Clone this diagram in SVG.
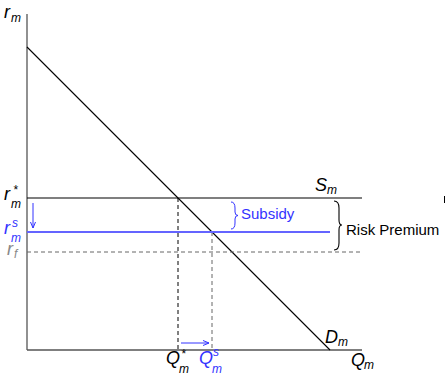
<svg xmlns="http://www.w3.org/2000/svg" width="447" height="376" viewBox="0 0 447 376">
<style>
.ax{stroke:#555;stroke-width:1.3;fill:none}
.ln{stroke:#000;stroke-width:1.1;fill:none}
.bl{stroke:#3333ff;stroke-width:1;fill:none}
.dash{stroke:#000;stroke-width:1;stroke-dasharray:4,3;fill:none}
.gdash{stroke:#666;stroke-width:1;stroke-dasharray:4,3;fill:none}
.m{font-family:"Liberation Sans",Arial,sans-serif;font-style:italic;font-size:18px;fill:#000}
.s{font-family:"Liberation Sans",Arial,sans-serif;font-style:italic;font-size:12px;fill:#000}
.t{font-family:"Liberation Sans",Arial,sans-serif;font-size:15px}
.blue{fill:#3333ff}
.gray{fill:#888}
</style>
<defs>
<marker id="ah" markerWidth="8" markerHeight="8" refX="7" refY="4" orient="auto" markerUnits="userSpaceOnUse">
<path d="M1,1.5 L7,4 L1,6.5" fill="none" stroke="#3333ff" stroke-width="1"/>
</marker>
</defs>
<g id="axes">
<line class="ax" x1="27" y1="14" x2="27" y2="350"/>
<line class="ax" x1="27" y1="350" x2="362" y2="350"/>
</g>
<g id="connectors">
<line class="ln" x1="27" y1="47" x2="330" y2="350"/>
<line class="ln" x1="27" y1="198" x2="362" y2="198"/>
<line class="gdash" x1="27" y1="252" x2="362" y2="252"/>
<line class="dash" x1="178" y1="198" x2="178" y2="350"/>
<line class="gdash" x1="212" y1="232" x2="212" y2="350"/>
<line x1="27" y1="232" x2="330" y2="232" stroke="#6464ff" stroke-width="1.8"/>
<line class="bl" x1="33" y1="203" x2="33" y2="228" marker-end="url(#ah)"/>
<line class="bl" x1="181" y1="343" x2="209" y2="343" marker-end="url(#ah)"/>
<path class="bl" d="M231,202 Q235,202 235,208 L235,212 Q235,215.5 238,215.5 Q235,215.5 235,219 L235,223 Q235,229 231,229"/>
<path class="ln" d="M334,201 Q339,201 339,208 L339,220 Q339,225 342,225 Q339,225 339,230 L339,243 Q339,250 334,250"/>
</g>
<g id="labels">
<text class="m" x="4" y="18">r</text><text class="s" x="11" y="22">m</text>
<text class="m" x="4" y="200">r</text><text class="s" x="13" y="194">*</text><text class="s" x="11" y="208">m</text>
<text class="m blue" x="4" y="234">r</text><text class="s blue" x="12" y="227">s</text><text class="s blue" x="11" y="242">m</text>
<text class="m gray" x="7" y="255">r</text><text class="s gray" x="14" y="258">f</text>
<text class="m" x="315" y="191">S</text><text class="s" x="327" y="194">m</text>
<text class="m" x="325" y="343">D</text><text class="s" x="338" y="346">m</text>
<text class="m" x="351" y="366">Q</text><text class="s" x="364" y="369">m</text>
<text class="m" x="166" y="364">Q</text><text class="s" x="181" y="358">*</text><text class="s" x="179" y="373">m</text>
<text class="m blue" x="199" y="364">Q</text><text class="s blue" x="213" y="356">s</text><text class="s blue" x="212" y="373">m</text>
<text class="t blue" x="241" y="219">Subsidy</text>
<text class="t" x="346" y="235">Risk Premium</text>
<line x1="444.5" y1="196" x2="444.5" y2="203" stroke="#000" stroke-width="1"/>
</g>
</svg>
